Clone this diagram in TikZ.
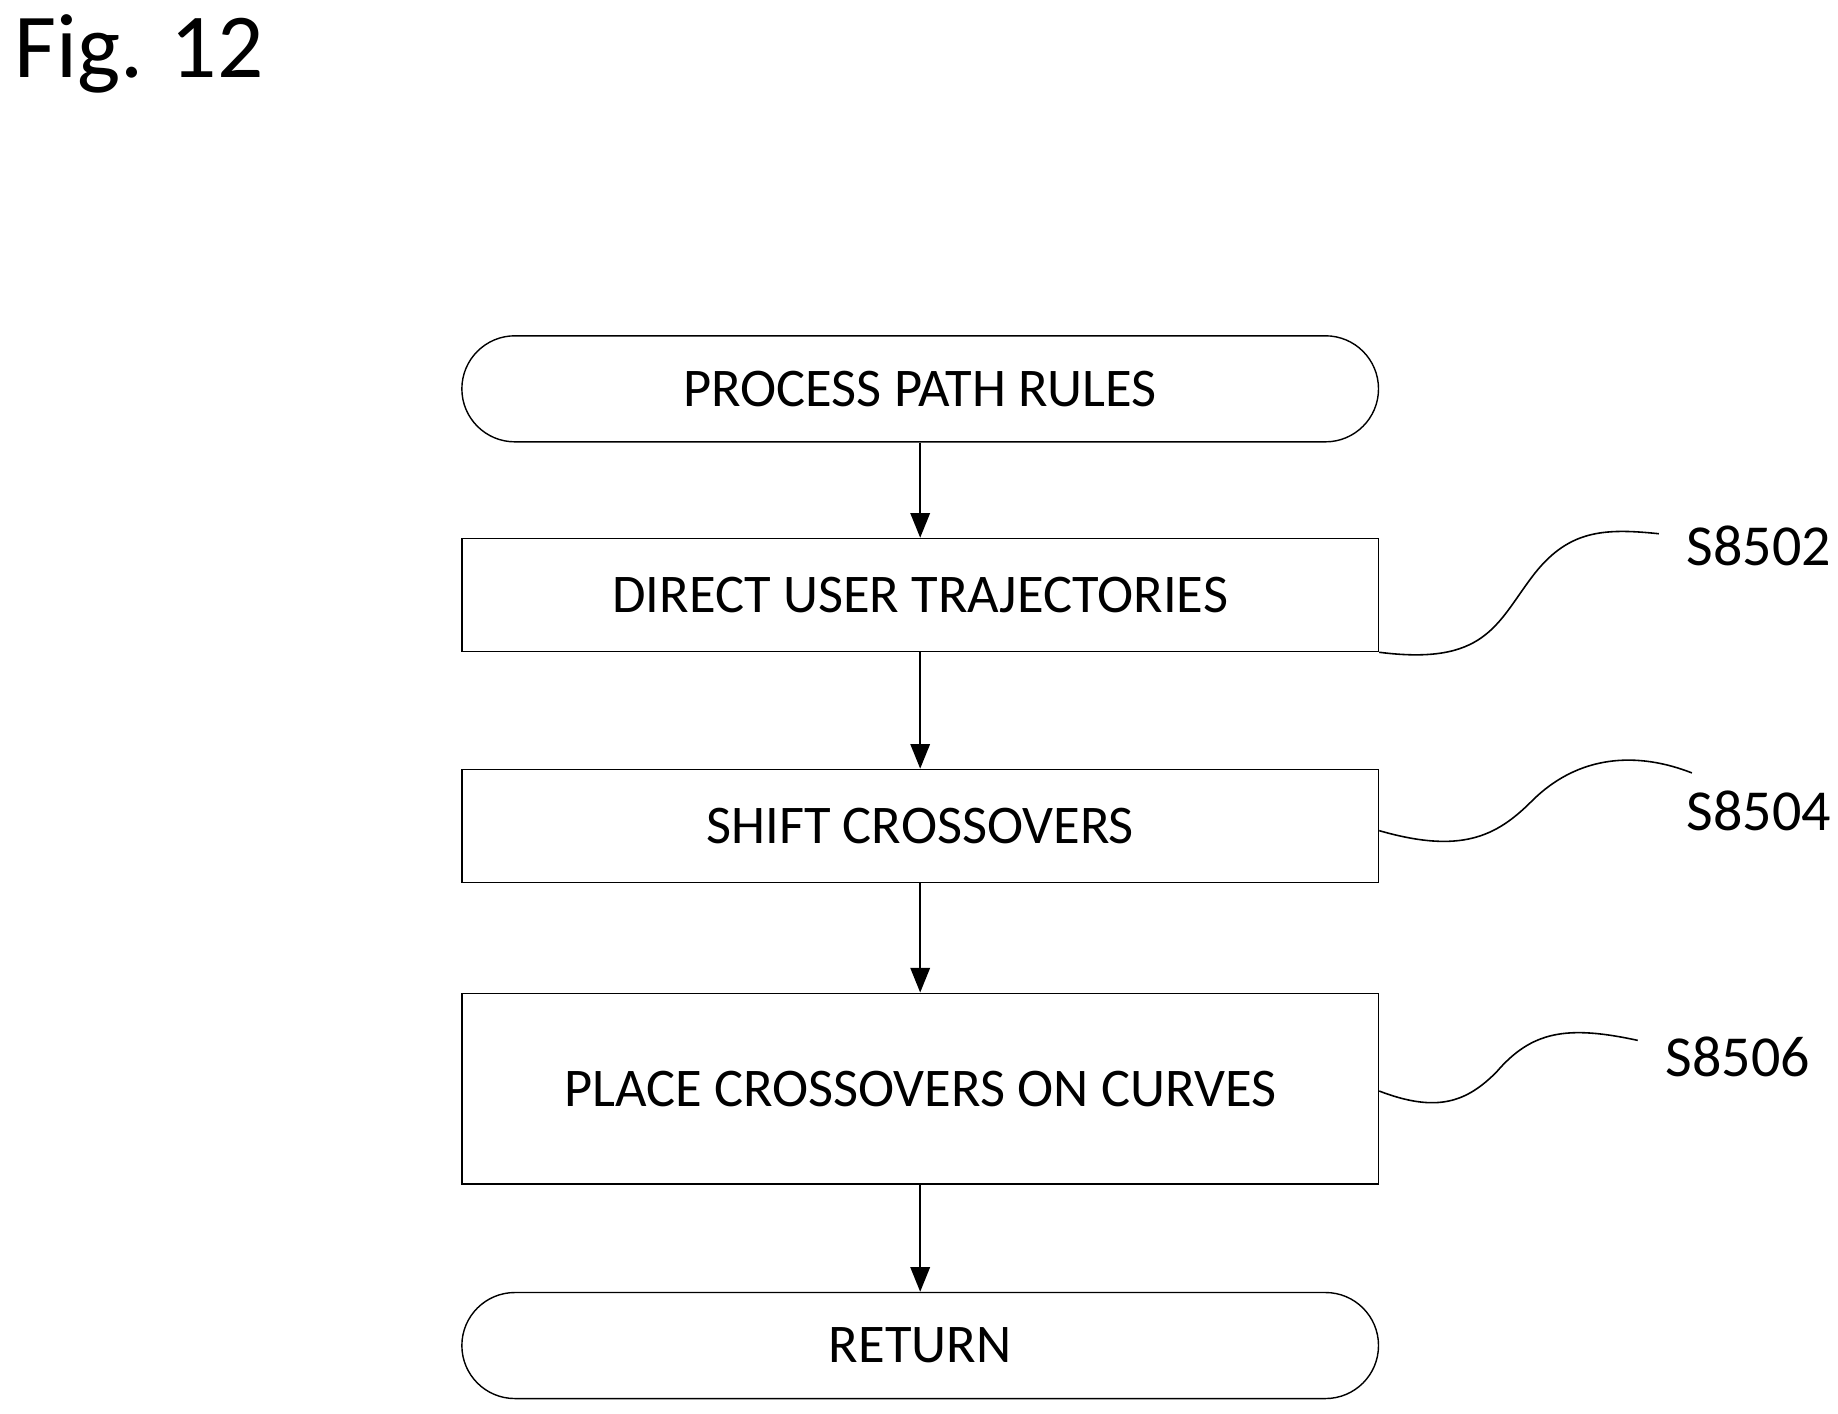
\documentclass[tikz,border=0pt]{standalone}
\usepackage{fontspec}
\setmainfont{Carlito}
\usetikzlibrary{arrows.meta}
\begin{document}
\begin{tikzpicture}[x=0.02356cm,y=-0.02356cm,
  box/.style={draw,line width=0.8pt,minimum width=778*0.02356cm,inner sep=0pt,font=\fontsize{31}{36}\selectfont},
  term/.style={box,rounded corners=45*0.02356cm},
  arr/.style={-{Triangle[length=14pt,width=11pt]},line width=1.2pt},
  lead/.style={line width=0.9pt},
  lab/.style={font=\fontsize{33}{38}\selectfont,inner sep=0pt}]
\useasboundingbox (0,0) rectangle (1560,1200);
\node[anchor=north west,inner sep=0pt,font=\fontsize{52}{60}\selectfont] (fig) at (12,12) {Fig. 12};
\node[term,minimum height=90*0.02356cm] (a) at (781,330) {PROCESS PATH RULES};
\node[box,minimum height=96*0.02356cm] (b) at (781,505) {DIRECT USER TRAJECTORIES};
\node[box,minimum height=96*0.02356cm] (c) at (781,701) {SHIFT CROSSOVERS};
\node[box,minimum height=162*0.02356cm] (d) at (781,924) {PLACE CROSSOVERS ON CURVES};
\node[term,minimum height=90*0.02356cm] (e) at (781,1142) {RETURN};
\draw[arr] (a) -- (b);
\draw[arr] (b) -- (c);
\draw[arr] (c) -- (d);
\draw[arr] (d) -- (e);
\node[lab] (l1) at (1493,463) {S8502};
\node[lab] (l2) at (1493,688) {S8504};
\node[lab] (l3) at (1475,897) {S8506};
\coordinate (p1) at (1408,453);
\coordinate (p2) at (1436,656);
\coordinate (p3) at (1390,883);
\draw[lead] (b.south east) .. controls (1260,565) and (1270,530) .. (1300,490) .. controls (1330,450) and (1360,448) .. (p1);
\draw[lead] (c.east) ++(0,4) .. controls (1240,725) and (1270,710) .. (1300,680) .. controls (1340,640) and (1390,638) .. (p2);
\draw[lead] (d.east) ++(0,2) .. controls (1220,945) and (1245,935) .. (1270,910) .. controls (1300,875) and (1330,870) .. (p3);
\end{tikzpicture}
\end{document}
